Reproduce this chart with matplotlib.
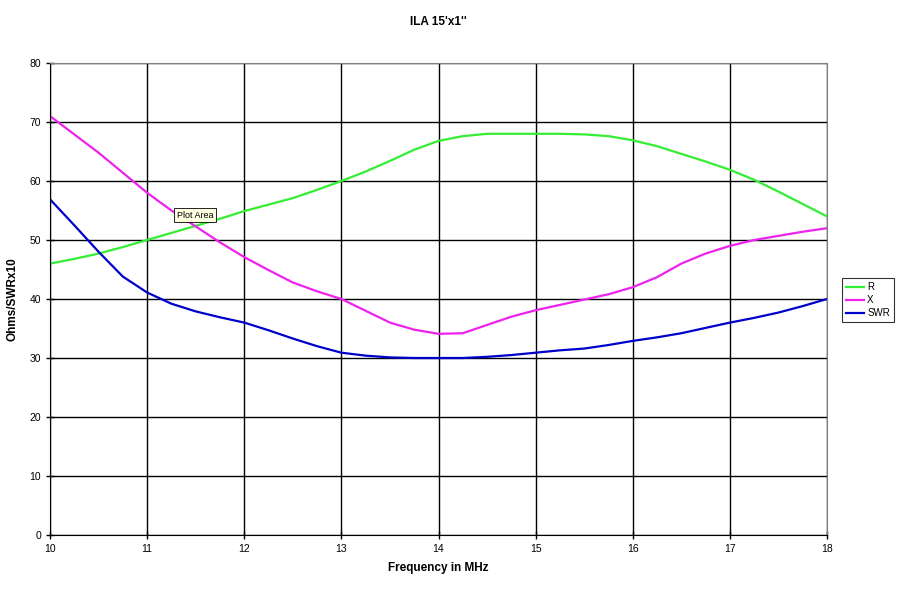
import matplotlib
matplotlib.use("Agg")
import matplotlib.pyplot as plt

# Werte (Schritt 0.25 MHz)
freq = [10, 10.25, 10.5, 10.75, 11, 11.25, 11.5, 11.75, 12, 12.25, 12.5, 12.75, 13, 13.25, 13.5, 13.75,
        14, 14.25, 14.5, 14.75, 15, 15.25, 15.5, 15.75, 16, 16.25, 16.5, 16.75, 17, 17.25, 17.5, 17.75, 18]
r_vals = [46, 46.8, 47.7, 48.8, 50, 51.2, 52.4, 53.6, 54.9, 56, 57.1, 58.5, 60, 61.6, 63.4, 65.3,
          66.8, 67.6, 68, 68, 68, 68, 67.9, 67.6, 66.9, 65.9, 64.6, 63.3, 61.9, 60.2, 58.2, 56.1, 54]
x_vals = [71, 67.9, 64.8, 61.4, 58, 55, 52.3, 49.6, 47.1, 44.9, 42.8, 41.3, 40, 38, 36, 34.8,
          34.1, 34.2, 35.6, 37, 38.1, 39, 39.9, 40.8, 42, 43.7, 46, 47.7, 49, 50, 50.7, 51.4, 52]
swr_vals = [56.9, 52.5, 48, 43.8, 41.1, 39.2, 37.9, 36.9, 36, 34.7, 33.3, 32, 30.9, 30.4, 30.1, 30,
            30, 30, 30.2, 30.5, 30.9, 31.3, 31.6, 32.2, 32.9, 33.5, 34.2, 35.1, 36, 36.8, 37.7, 38.8, 40]

plt.rcParams['font.family'] = ['Liberation Sans', 'DejaVu Sans']

fig = plt.figure(figsize=(9, 6.04), dpi=100)
ax = fig.add_axes([50/900, 1-535/604, 777/900, 472/604])

ax.plot(freq, r_vals, color='#33ee33', linewidth=1.6, label='R')
ax.plot(freq, x_vals, color='#ee22ee', linewidth=1.6, label='X')
ax.plot(freq, swr_vals, color='#0000cc', linewidth=1.6, label='SWR')

ax.set_xlim(10, 18)
ax.set_ylim(0, 80)
ax.set_xticks(range(10, 19))
ax.set_yticks(range(0, 81, 10))
ax.grid(True, color='black', linewidth=1.0)
ax.set_axisbelow(True)
ax.tick_params(direction='inout', length=6, labelsize=7.5, width=1)
for s in ax.spines.values():
    s.set_color('#808080')
ax.spines['left'].set_color('black')
ax.spines['bottom'].set_color('black')

ax.set_xlabel('Frequency in MHz', fontsize=8.5, fontweight='bold', labelpad=6)
ax.set_ylabel('Ohms/SWRx10', fontsize=8.5, fontweight='bold', labelpad=8)
fig.text(438/900, 1-22/604, "ILA 15'x1''", ha='center', va='center', fontsize=8.5, fontweight='bold')

leg = ax.legend(loc='center left', bbox_to_anchor=(842/900, 1-300/604), bbox_transform=fig.transFigure,
                fontsize=7, frameon=True, fancybox=False, handlelength=1.9, handletextpad=0.3,
                borderpad=0.4, labelspacing=0.3, borderaxespad=0)
leg.get_frame().set_edgecolor('black')
leg.get_frame().set_linewidth(0.8)

fig.text(195/900, 1-215/604, 'Plot Area', ha='center', va='center', fontsize=6.5,
         bbox=dict(boxstyle='square,pad=0.25', facecolor='#ffffe1', edgecolor='black', linewidth=0.6))

fig.savefig('out.png', dpi=100)
